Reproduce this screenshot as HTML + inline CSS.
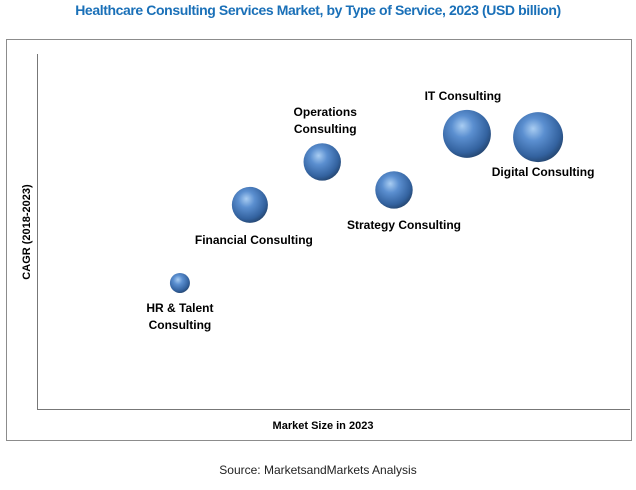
<!DOCTYPE html>
<html><head><meta charset="utf-8"><style>
body{margin:0;background:#fff;width:636px;height:485px;overflow:hidden;font-family:"Liberation Sans",sans-serif}
</style></head><body>
<svg width="636" height="485">
<defs>
<radialGradient id="g" cx="0.42" cy="0.38" r="0.65" fx="0.4" fy="0.33">
<stop offset="0" stop-color="#a9cdf2"/><stop offset="0.35" stop-color="#5b8fd0"/><stop offset="0.8" stop-color="#33629f"/><stop offset="1" stop-color="#24456f"/>
</radialGradient>
</defs>
<text x="318" y="15" text-anchor="middle" font-size="14" font-weight="bold" fill="#1a70b8" letter-spacing="-0.4">Healthcare Consulting Services Market, by Type of Service, 2023 (USD billion)</text>
<rect x="6.5" y="39.5" width="625" height="401" fill="none" stroke="#8c8c8c"/>
<line x1="37.5" y1="54" x2="37.5" y2="409.5" stroke="#777"/>
<line x1="37" y1="409.5" x2="630" y2="409.5" stroke="#777"/>
<text transform="translate(30,232) rotate(-90)" text-anchor="middle" font-size="11" font-weight="bold">CAGR (2018-2023)</text>
<text x="323" y="429" text-anchor="middle" font-size="11" font-weight="bold">Market Size in 2023</text>
<text x="318" y="474" text-anchor="middle" font-size="12" fill="#222">Source: MarketsandMarkets Analysis</text>
<g id="bubbles"></g>
</svg>
<script>
const names=["HR & Talent|Consulting","Financial Consulting","Operations|Consulting","Strategy Consulting","IT Consulting","Digital Consulting"];
const xVals=[24.1,35.9,48.1,60.2,72.5,84.5];
const yVals=[35.5,57.5,69.6,61.7,77.5,76.6];
const sizes=[4,13,14,14,23,25];
const lblDx=[0,4,3,10,-4,5];
const lblDy=[29,39,-46,39,-34,39];
const xs=v=>37+v*5.93, ys=v=>409-v*3.55, rs=s=>5*Math.sqrt(s);
const G=document.getElementById('bubbles'),NS="http://www.w3.org/2000/svg";
names.forEach((n,i)=>{
 const cx=xs(xVals[i]),cy=ys(yVals[i]);
 const c=document.createElementNS(NS,'circle');
 c.setAttribute('cx',cx);c.setAttribute('cy',cy);c.setAttribute('r',rs(sizes[i]));c.setAttribute('fill','url(#g)');
 
 
 G.appendChild(c);
 const t=document.createElementNS(NS,'text');
 t.setAttribute('text-anchor','middle');t.setAttribute('font-size','12');t.setAttribute('font-weight','bold');
 
 
 n.split('|').forEach((s,j)=>{const sp=document.createElementNS(NS,'tspan');sp.setAttribute('x',cx+lblDx[i]);sp.setAttribute('y',cy+lblDy[i]+j*17);sp.textContent=s;t.appendChild(sp);});
 G.appendChild(t);
});
</script>
</body></html>
